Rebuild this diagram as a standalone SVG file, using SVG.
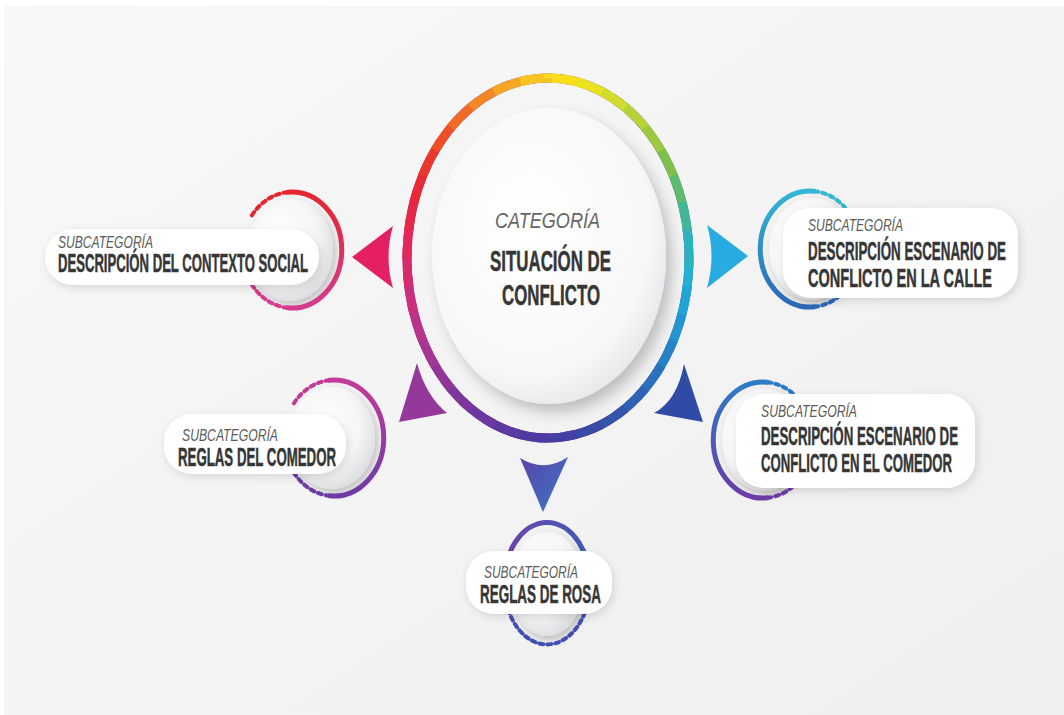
<svg xmlns="http://www.w3.org/2000/svg" xmlns:xlink="http://www.w3.org/1999/xlink" width="1064" height="715" viewBox="0 0 1064 715">
<defs>
  <linearGradient id="bg" x1="0" y1="0" x2="1" y2="1">
    <stop offset="0" stop-color="#f9f8f8"/>
    <stop offset="1" stop-color="#efefef"/>
  </linearGradient>
  <radialGradient id="disk" cx="0.4" cy="0.38" r="0.7">
    <stop offset="0" stop-color="#ffffff"/>
    <stop offset="0.6" stop-color="#f6f6f7"/>
    <stop offset="1" stop-color="#d8d8dc"/>
  </radialGradient>
  <radialGradient id="bigdisk" cx="0.42" cy="0.4" r="0.68">
    <stop offset="0" stop-color="#ffffff"/>
    <stop offset="0.75" stop-color="#f7f7f8"/>
    <stop offset="1" stop-color="#e2e2e5"/>
  </radialGradient>
  <filter id="sh" x="-30%" y="-30%" width="160%" height="160%">
    <feDropShadow dx="3" dy="4" stdDeviation="4" flood-color="#000" flood-opacity="0.22"/>
  </filter>
  <filter id="shBig" x="-20%" y="-20%" width="140%" height="140%">
    <feDropShadow dx="6" dy="8" stdDeviation="7" flood-color="#000" flood-opacity="0.22"/>
  </filter>
  <filter id="shPill" x="-20%" y="-40%" width="140%" height="180%">
    <feDropShadow dx="2" dy="3" stdDeviation="4" flood-color="#000" flood-opacity="0.13"/>
  </filter>
  <linearGradient id="g1" gradientUnits="userSpaceOnUse" x1="0" y1="192" x2="0" y2="308">
    <stop offset="0" stop-color="#e5262f"/><stop offset="1" stop-color="#d53b90"/>
  </linearGradient>
  <linearGradient id="g2" gradientUnits="userSpaceOnUse" x1="0" y1="191" x2="0" y2="307">
    <stop offset="0" stop-color="#35b6d4"/><stop offset="1" stop-color="#2a68b8"/>
  </linearGradient>
  <linearGradient id="g3" gradientUnits="userSpaceOnUse" x1="0" y1="380" x2="0" y2="496">
    <stop offset="0" stop-color="#c43a9a"/><stop offset="1" stop-color="#6a3ca4"/>
  </linearGradient>
  <linearGradient id="g4" gradientUnits="userSpaceOnUse" x1="0" y1="382" x2="0" y2="498">
    <stop offset="0" stop-color="#2d7cc6"/><stop offset="1" stop-color="#6c3ba6"/>
  </linearGradient>
  <linearGradient id="g5" gradientUnits="userSpaceOnUse" x1="504" y1="0" x2="590" y2="0">
    <stop offset="0" stop-color="#6e42a8"/><stop offset="1" stop-color="#3f5cb4"/>
  </linearGradient>
  <linearGradient id="gArrow" x1="0" y1="0" x2="1" y2="1">
    <stop offset="0" stop-color="#5b43a7"/><stop offset="1" stop-color="#3a78c6"/>
  </linearGradient>
  <path id="ring" d="M689,258 A141,180 0 0 1 407,258 A141,180 0 0 1 689,258 Z" pathLength="360"/>
  <style>
    .base{fill:none;stroke-width:9}
    .seg{fill:none;stroke-width:9;stroke-dasharray:14 346}
    .solid{fill:none;stroke-width:5;stroke-linecap:round}
    .dash{fill:none;stroke-width:4;stroke-dasharray:4 4;stroke-linecap:round}
    .pill{fill:#ffffff;filter:url(#shPill)}
    .sub{font-family:"Liberation Sans","Noto Sans",sans-serif;font-style:italic;font-size:16px;fill:#5a5a5a}
    .ttl{font-family:"Liberation Sans","Noto Sans",sans-serif;font-weight:bold;font-size:25px;fill:#363636;stroke:#363636;stroke-width:0.5}
    .disk{fill:url(#disk);filter:url(#sh)}
  </style>
</defs>

<rect x="0" y="0" width="1064" height="715" fill="#ffffff"/>
<rect x="4" y="6" width="1060" height="709" fill="url(#bg)"/>

<g id="center">
  <g id="center-ring">
    <use href="#ring" class="base" stroke="#8a4a9a"/>
    <use href="#ring" class="seg" stroke="#22b1d6" stroke-dashoffset="0"/>
    <use href="#ring" class="seg" stroke="#20a6d6" stroke-dashoffset="-10"/>
    <use href="#ring" class="seg" stroke="#2196d2" stroke-dashoffset="-20"/>
    <use href="#ring" class="seg" stroke="#2683c8" stroke-dashoffset="-30"/>
    <use href="#ring" class="seg" stroke="#2a72be" stroke-dashoffset="-40"/>
    <use href="#ring" class="seg" stroke="#2f62b4" stroke-dashoffset="-50"/>
    <use href="#ring" class="seg" stroke="#3455ac" stroke-dashoffset="-60"/>
    <use href="#ring" class="seg" stroke="#3a4aa7" stroke-dashoffset="-70"/>
    <use href="#ring" class="seg" stroke="#433fa3" stroke-dashoffset="-80"/>
    <use href="#ring" class="seg" stroke="#4d3aa2" stroke-dashoffset="-90"/>
    <use href="#ring" class="seg" stroke="#5a39a1" stroke-dashoffset="-100"/>
    <use href="#ring" class="seg" stroke="#6a389f" stroke-dashoffset="-110"/>
    <use href="#ring" class="seg" stroke="#7c379c" stroke-dashoffset="-120"/>
    <use href="#ring" class="seg" stroke="#903698" stroke-dashoffset="-130"/>
    <use href="#ring" class="seg" stroke="#a53592" stroke-dashoffset="-140"/>
    <use href="#ring" class="seg" stroke="#b9338a" stroke-dashoffset="-150"/>
    <use href="#ring" class="seg" stroke="#cb2f7c" stroke-dashoffset="-160"/>
    <use href="#ring" class="seg" stroke="#d92b6c" stroke-dashoffset="-170"/>
    <use href="#ring" class="seg" stroke="#e2285a" stroke-dashoffset="-180"/>
    <use href="#ring" class="seg" stroke="#e62748" stroke-dashoffset="-190"/>
    <use href="#ring" class="seg" stroke="#e82a36" stroke-dashoffset="-200"/>
    <use href="#ring" class="seg" stroke="#ea372b" stroke-dashoffset="-210"/>
    <use href="#ring" class="seg" stroke="#ed5028" stroke-dashoffset="-220"/>
    <use href="#ring" class="seg" stroke="#f06b26" stroke-dashoffset="-230"/>
    <use href="#ring" class="seg" stroke="#f38824" stroke-dashoffset="-240"/>
    <use href="#ring" class="seg" stroke="#f5a622" stroke-dashoffset="-250"/>
    <use href="#ring" class="seg" stroke="#f7c51f" stroke-dashoffset="-260"/>
    <use href="#ring" class="seg" stroke="#f7de1c" stroke-dashoffset="-270"/>
    <use href="#ring" class="seg" stroke="#eae220" stroke-dashoffset="-280"/>
    <use href="#ring" class="seg" stroke="#d2dc2a" stroke-dashoffset="-290"/>
    <use href="#ring" class="seg" stroke="#b7d235" stroke-dashoffset="-300"/>
    <use href="#ring" class="seg" stroke="#9bc940" stroke-dashoffset="-310"/>
    <use href="#ring" class="seg" stroke="#7dc04c" stroke-dashoffset="-320"/>
    <use href="#ring" class="seg" stroke="#5dbb6f" stroke-dashoffset="-330"/>
    <use href="#ring" class="seg" stroke="#40b79a" stroke-dashoffset="-340"/>
    <use href="#ring" class="seg" stroke="#2bb4bf" stroke-dashoffset="-350"/>
  </g>
  <ellipse cx="549" cy="256" rx="117" ry="148" fill="url(#bigdisk)" filter="url(#shBig)"/>
  <text x="495" y="228" class="sub" style="font-size:22px;fill:#666" textLength="105" lengthAdjust="spacingAndGlyphs">CATEGORÍA</text>
  <text x="490" y="271" class="ttl" style="font-size:29px" textLength="121" lengthAdjust="spacingAndGlyphs">SITUACIÓN DE</text>
  <text x="502" y="305" class="ttl" style="font-size:29px" textLength="98" lengthAdjust="spacingAndGlyphs">CONFLICTO</text>
</g>

<g id="connectors">
  <path d="M393,226 L352,257 L393,288 Q384,257 393,226 Z" fill="#e41f64"/>
  <path d="M707,225 L748,256 L707,288 Q716,256 707,225 Z" fill="#28abe0"/>
  <path d="M417,363 L399,422 L447,413 Q426,396 417,363 Z" fill="#94399a"/>
  <path d="M684,364 L703,422 L654,413 Q677,401 684,364 Z" fill="#2f4ba6"/>
  <path d="M520,458 L543,512 L568,457 Q544,473 520,458 Z" fill="url(#gArrow)"/>
</g>

<g id="node-contexto-social">
  <ellipse cx="290" cy="250" rx="43" ry="51" class="disk"/>
  <path d="M287.6,192.2 A50,58 0 1 1 287.6,307.8" class="solid" stroke="url(#g1)"/>
  <path d="M287.6,192.2 A50,58 0 0 0 251,216.7" class="dash" stroke="#e5262f"/>
  <path d="M287.6,307.8 A50,58 0 0 1 251,283.3" class="dash" stroke="#d53b90"/>
  <rect x="45" y="229" width="274" height="56" rx="28" class="pill"/>
  <text x="58" y="248" class="sub" textLength="95" lengthAdjust="spacingAndGlyphs">SUBCATEGORÍA</text>
  <text x="58" y="272" class="ttl" textLength="250" lengthAdjust="spacingAndGlyphs">DESCRIPCIÓN DEL CONTEXTO SOCIAL</text>
</g>

<g id="node-escenario-calle">
  <ellipse cx="812" cy="249" rx="43" ry="51" class="disk"/>
  <path d="M814.4,191.2 A50,58 0 1 0 814.4,306.8" class="solid" stroke="url(#g2)"/>
  <path d="M814.4,191.2 A50,58 0 0 1 851,215.7" class="dash" stroke="#35b6d4"/>
  <path d="M814.4,306.8 A50,58 0 0 0 851,282.3" class="dash" stroke="#2a68b8"/>
  <rect x="783" y="208" width="235" height="90" rx="28" class="pill"/>
  <text x="808" y="231" class="sub" textLength="95" lengthAdjust="spacingAndGlyphs">SUBCATEGORÍA</text>
  <text x="808" y="260" class="ttl" textLength="198" lengthAdjust="spacingAndGlyphs">DESCRIPCIÓN ESCENARIO DE</text>
  <text x="808" y="287" class="ttl" textLength="184" lengthAdjust="spacingAndGlyphs">CONFLICTO EN LA CALLE</text>
</g>

<g id="node-reglas-comedor">
  <ellipse cx="332" cy="438" rx="43" ry="51" class="disk"/>
  <path d="M329.6,380.2 A50,58 0 1 1 329.6,495.8" class="solid" stroke="url(#g3)"/>
  <path d="M329.6,380.2 A50,58 0 0 0 293,404.7" class="dash" stroke="#c43a9a"/>
  <path d="M329.6,495.8 A50,58 0 0 1 293,471.3" class="dash" stroke="#6a3ca4"/>
  <rect x="164" y="414" width="182" height="60" rx="28" class="pill"/>
  <text x="182" y="441" class="sub" textLength="96" lengthAdjust="spacingAndGlyphs">SUBCATEGORÍA</text>
  <text x="178" y="466" class="ttl" textLength="158" lengthAdjust="spacingAndGlyphs">REGLAS DEL COMEDOR</text>
</g>

<g id="node-escenario-comedor">
  <ellipse cx="765" cy="440" rx="43" ry="51" class="disk"/>
  <path d="M767.4,382.2 A50,58 0 1 0 767.4,497.8" class="solid" stroke="url(#g4)"/>
  <path d="M767.4,382.2 A50,58 0 0 1 804,406.7" class="dash" stroke="#2d7cc6"/>
  <path d="M767.4,497.8 A50,58 0 0 0 804,473.3" class="dash" stroke="#6c3ba6"/>
  <rect x="736" y="394" width="239" height="94" rx="28" class="pill"/>
  <text x="761" y="417" class="sub" textLength="96" lengthAdjust="spacingAndGlyphs">SUBCATEGORÍA</text>
  <text x="761" y="445" class="ttl" textLength="197" lengthAdjust="spacingAndGlyphs">DESCRIPCIÓN ESCENARIO DE</text>
  <text x="761" y="472" class="ttl" textLength="191" lengthAdjust="spacingAndGlyphs">CONFLICTO EN EL COMEDOR</text>
</g>

<g id="node-reglas-rosa">
  <ellipse cx="547" cy="584" rx="37" ry="52" class="disk"/>
  <path d="M504.2,589.3 A43,61 0 1 1 589.8,589.3" class="solid" stroke="url(#g5)"/>
  <path d="M589.8,589.3 A43,61 0 0 1 504.2,589.3" class="dash" stroke="#4150b0"/>
  <rect x="466" y="551" width="146" height="63" rx="28" class="pill"/>
  <text x="484" y="578" class="sub" textLength="94" lengthAdjust="spacingAndGlyphs">SUBCATEGORÍA</text>
  <text x="480" y="603" class="ttl" textLength="121" lengthAdjust="spacingAndGlyphs">REGLAS DE ROSA</text>
</g>
</svg>
